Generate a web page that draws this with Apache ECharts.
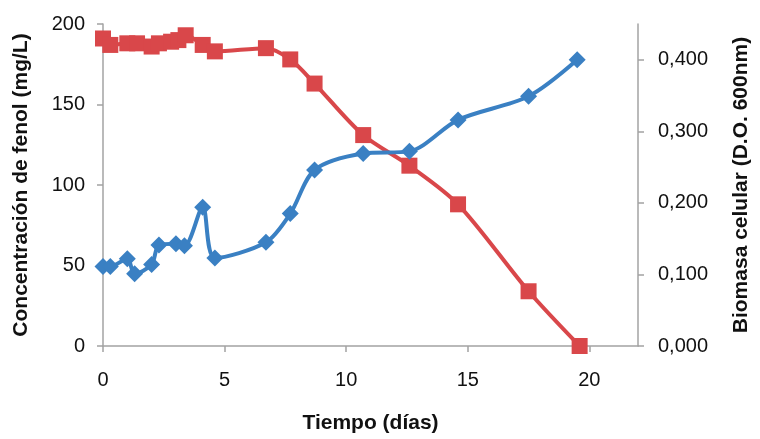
<!DOCTYPE html>
<html>
<head>
<meta charset="utf-8">
<script src="https://cdn.jsdelivr.net/npm/echarts@6/dist/echarts.min.js"></script>
<style>
  html, body { margin: 0; padding: 0; background: #ffffff; }
  #chart { width: 760px; height: 439px; }
</style>
</head>
<body>
<div id="chart"></div>
<script>
// Phenol concentration (mg/L) against time in days
const fenolDays = [0, 0.3, 1.0, 1.4, 2.0, 2.3, 2.8, 3.1, 3.4, 4.1, 4.6, 6.7, 7.7, 8.7, 10.7, 12.6, 14.6, 17.5, 19.6];
const fenol     = [191, 187, 188, 188, 186, 188, 189, 190, 193, 187, 183, 185, 178, 163, 131, 112, 88, 34, 0];

// Cell biomass (optical density at 600 nm) against time in days
const biomasaDays = [0, 0.3, 1.0, 1.3, 2.0, 2.3, 3.0, 3.35, 4.1, 4.6, 6.7, 7.7, 8.7, 10.7, 12.6, 14.6, 17.5, 19.5];
const biomasa     = [0.111, 0.111, 0.122, 0.101, 0.114, 0.141, 0.143, 0.140, 0.194, 0.123, 0.145, 0.185, 0.246, 0.269, 0.272, 0.316, 0.349, 0.400];

// Tick values
const dayTicks = [0, 5, 10, 15, 20];
const fenolTicks = [0, 50, 100, 150, 200];
const biomasaTicks = [0, 0.1, 0.2, 0.3, 0.4];

const FONT = "'Liberation Sans', Arial, Helvetica, sans-serif";
const AXIS_GREY = '#a3a3a3';
const RED = '#d9474a';
const BLUE = '#3a80c3';

const pairs = (xs, ys) => xs.map((x, i) => [x, ys[i]]);

const chart = echarts.init(document.getElementById('chart'), null, { renderer: 'canvas' });

const tickLabel = { color: '#111', fontSize: 20, fontFamily: FONT };
const nameStyle = { color: '#111', fontSize: 21, fontWeight: 'bold', fontFamily: FONT };

chart.setOption({
  animation: false,
  backgroundColor: '#ffffff',
  grid: { left: 103, right: 117, top: 24, bottom: 88, containLabel: false },
  xAxis: {
    type: 'value',
    min: 0, max: 22, interval: 5,
    name: 'Tiempo (días)',
    nameLocation: 'middle',
    nameGap: 67,
    nameTextStyle: nameStyle,
    axisLine: { show: true, lineStyle: { color: AXIS_GREY, width: 1.5 } },
    axisTick: { show: true, length: 6, lineStyle: { color: AXIS_GREY, width: 1.5 }, customValues: dayTicks },
    axisLabel: Object.assign({ margin: 24, customValues: dayTicks }, tickLabel),
    splitLine: { show: false }
  },
  yAxis: [
    {
      type: 'value',
      position: 'left',
      min: 0, max: 200, interval: 50,
      name: 'Concentración de fenol (mg/L)',
      nameLocation: 'middle',
      nameRotate: 90,
      nameGap: 71,
      nameTextStyle: nameStyle,
      axisLine: { show: true, lineStyle: { color: AXIS_GREY, width: 1.5 } },
      axisTick: { show: true, length: 6, lineStyle: { color: AXIS_GREY, width: 1.5 }, customValues: fenolTicks },
      axisLabel: Object.assign({ margin: 18, customValues: fenolTicks }, tickLabel),
      splitLine: { show: false }
    },
    {
      type: 'value',
      position: 'right',
      min: 0, max: 0.45, interval: 0.1,
      name: 'Biomasa celular (D.O. 600nm)',
      nameLocation: 'middle',
      nameRotate: 90,
      nameGap: 93,
      nameTextStyle: nameStyle,
      axisLine: { show: true, lineStyle: { color: AXIS_GREY, width: 1.5 } },
      axisTick: { show: true, length: 6, lineStyle: { color: AXIS_GREY, width: 1.5 }, customValues: biomasaTicks },
      axisLabel: Object.assign({
        margin: 20,
        customValues: biomasaTicks,
        formatter: v => v.toFixed(3).replace('.', ',')
      }, tickLabel),
      splitLine: { show: false }
    }
  ],
  series: [
    {
      name: 'Fenol',
      type: 'line',
      yAxisIndex: 0,
      data: pairs(fenolDays, fenol),
      smooth: 0.3,
      symbol: 'rect',
      symbolSize: 16,
      lineStyle: { color: RED, width: 4 },
      itemStyle: { color: RED },
      z: 2
    },
    {
      name: 'Biomasa',
      type: 'line',
      yAxisIndex: 1,
      data: pairs(biomasaDays, biomasa),
      smooth: 0.3,
      symbol: 'diamond',
      symbolSize: [17, 17],
      lineStyle: { color: BLUE, width: 4 },
      itemStyle: { color: BLUE },
      z: 3
    }
  ]
});
</script>
</body>
</html>
